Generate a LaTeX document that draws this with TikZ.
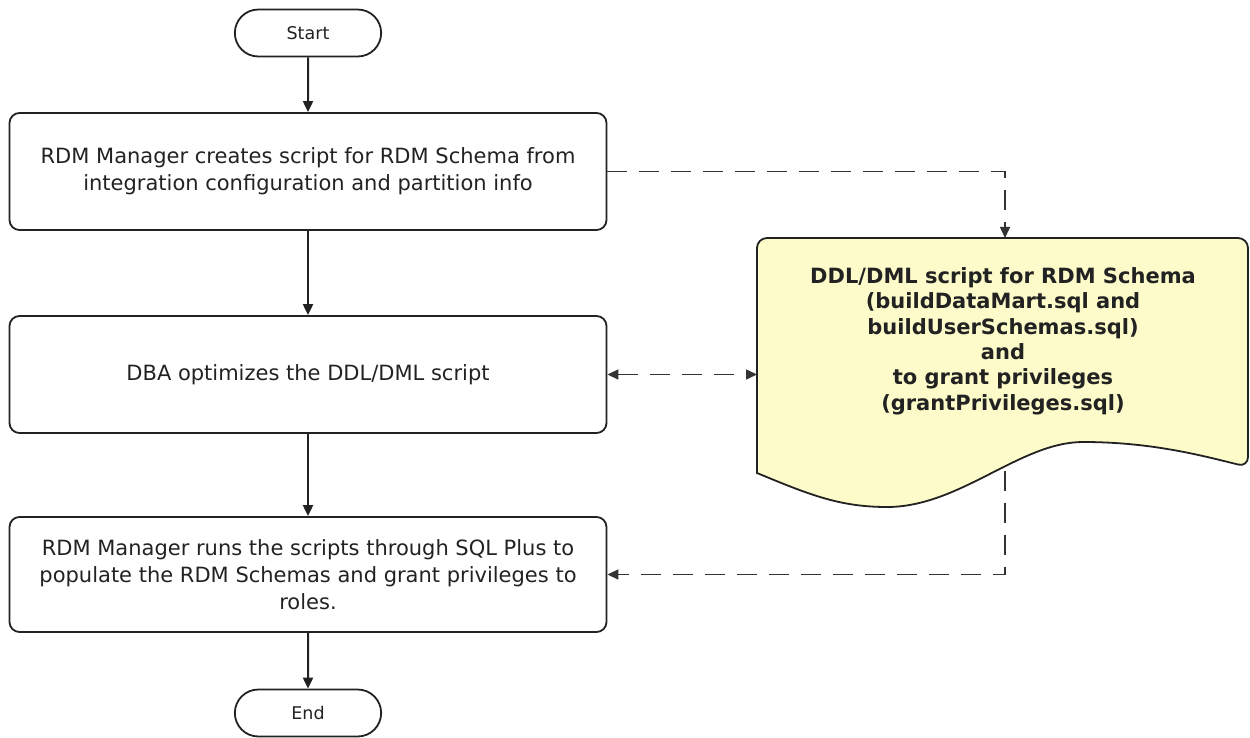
\documentclass[tikz,border=0pt]{standalone}
\usepackage{fontspec}
\setmainfont{DejaVu Sans}
\usetikzlibrary{arrows.meta,shapes.misc}
\definecolor{docfill}{HTML}{FCFBC9}
\definecolor{ink}{HTML}{222222}
\begin{document}
\begin{tikzpicture}[x=1pt,y=-1pt,
  >={Triangle[length=11pt,width=10pt]},
  term/.style={rounded rectangle, draw=ink, line width=1.8pt, minimum width=153pt, minimum height=47pt, font=\fontsize{17.5}{21}\selectfont, text=ink},
  procbox/.style={rectangle, rounded corners=10pt, draw=ink, line width=1.8pt, minimum width=597pt, minimum height=117pt, align=center, font=\fontsize{21}{27}\selectfont, text=ink},
  flow/.style={draw=ink, line width=2pt, ->},
  dashline/.style={draw=black!80, line width=1.5pt, dash pattern=on 20pt off 12pt}
]
\useasboundingbox (0,0) rectangle (1250,738);
\node[term] (start) at (308,33) {Start};
\node[procbox] (b1) at (308,171.5) {RDM Manager creates script for RDM Schema from\\integration configuration and partition info};
\node[procbox] (b2) at (308,374.5) {DBA optimizes the DDL/DML script};
\node[procbox, minimum height=115pt] (b3) at (308,574.5) {RDM Manager runs the scripts through SQL Plus to\\populate the RDM Schemas and grant privileges to\\roles.};
\node[term] (stop) at (308,713) {End};

\draw[draw=ink, line width=1.8pt, fill=docfill, rounded corners=10pt] (757,473) -- (757,238) -- (1248,238) -- (1248,467) [sharp corners] .. controls (1200,455) and (1150,442) .. (1083,442) .. controls (1020,442) and (960,507) .. (887,507) .. controls (840,507) and (810,495) .. (757,473) -- cycle;
\node[font=\bfseries\fontsize{21}{25.4}\selectfont, align=center, text=ink] (doctext) at (1003,341) {DDL/DML script for RDM Schema\\(buildDataMart.sql and\\buildUserSchemas.sql)\\and\\to grant privileges\\(grantPrivileges.sql)};
\coordinate (docTop) at (1005,238);
\coordinate (docLeft) at (757,374.5);
\coordinate (docBot) at (1005,471);

\draw[flow] (start) -- (b1);
\draw[flow] (b1) -- (b2);
\draw[flow] (b2) -- (b3);
\draw[flow] (b3) -- (stop);
\draw[dashline,->] (b1.east) -| (docTop);
\draw[dashline,<->] (b2.east) -- (docLeft);
\draw[dashline,->] (docBot) |- (b3.east);
\end{tikzpicture}
\end{document}
